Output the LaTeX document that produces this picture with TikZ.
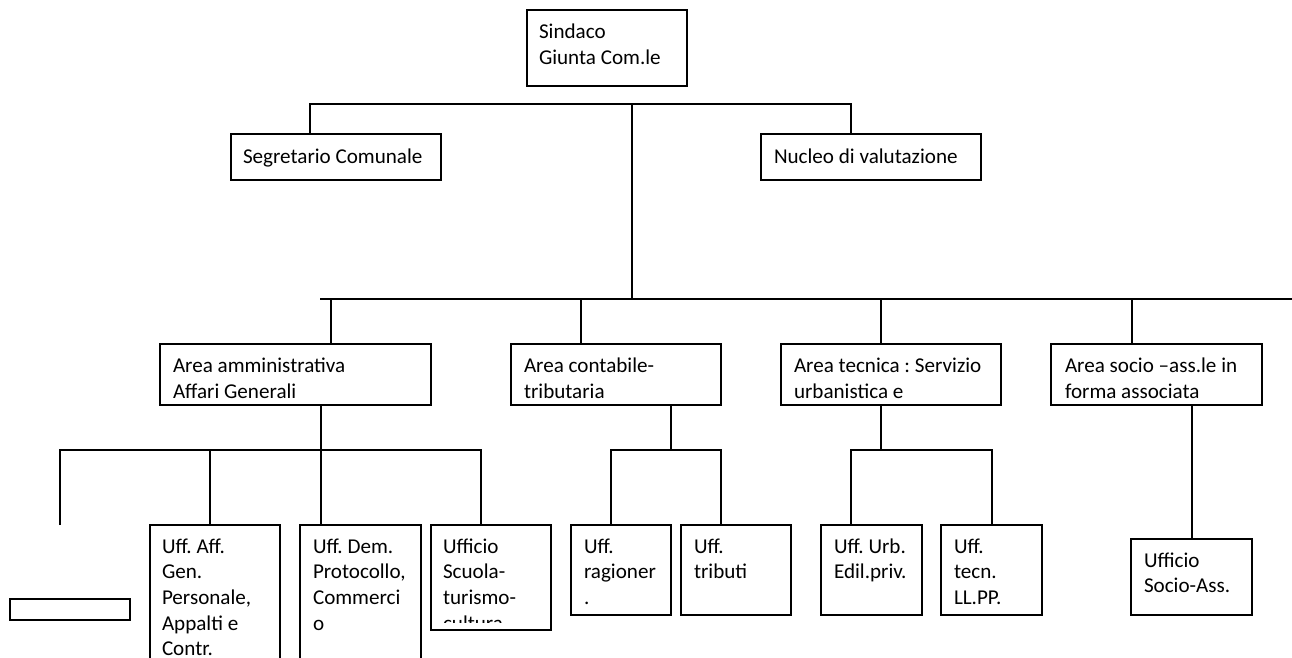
\documentclass[tikz,border=0pt]{standalone}
\usepackage{fontspec}
\setmainfont{Carlito}
\frenchspacing
\begin{document}
\begin{tikzpicture}[x=1pt,y=-1pt,
  box/.style={draw=black, line width=1.8pt, rectangle, anchor=north west, inner sep=0pt, outer sep=0pt},
  txt/.style={anchor=north west, inner sep=0pt, outer sep=0pt, align=left,
    font=\fontsize{21.1}{25.7}\selectfont\frenchspacing, execute at begin node=\strut},
  conn/.style={draw=black, line width=1.8pt}]
\useasboundingbox (0,0) rectangle (1292,657);
% boxes
\node[box, minimum width=160, minimum height=76] (sind) at (527,10) {};
\node[box, minimum width=210, minimum height=46] (segr) at (231,134) {};
\node[box, minimum width=220, minimum height=46] (nucl) at (761,134) {};
\node[box, minimum width=271, minimum height=61] (aamm) at (160,344) {};
\node[box, minimum width=210, minimum height=61] (acont) at (511,344) {};
\node[box, minimum width=220, minimum height=61] (atec) at (781,344) {};
\node[box, minimum width=211, minimum height=61] (asoc) at (1051,344) {};
\node[box, minimum width=130, minimum height=200] (uaff) at (150,525) {};
\node[box, minimum width=121, minimum height=200] (udem) at (300,525) {};
\node[box, minimum width=120, minimum height=105] (uscu) at (431,525) {};
\node[box, minimum width=100, minimum height=90] (urag) at (571,525) {};
\node[box, minimum width=110, minimum height=90] (utri) at (681,525) {};
\node[box, minimum width=101, minimum height=90] (uurb) at (821,525) {};
\node[box, minimum width=101, minimum height=90] (utec) at (941,525) {};
\node[box, minimum width=121, minimum height=76] (usoc) at (1131,539) {};
\node[box, minimum width=120, minimum height=21] (empty) at (10,599) {};
% texts
\node[txt] (t-sind) at (539,24) {Sindaco\\Giunta Com.le};
\node[txt] (t-segr) at (243,145.5) {Segretario Comunale};
\node[txt] (t-nucl) at (774,145.5) {Nucleo di valutazione};
\node[txt] (t-aamm) at (173,358) {Area amministrativa\\Affari Generali};
\node[txt] (t-acont) at (524,358) {Area contabile-\\tributaria};
\node[txt] (t-atec) at (794,358) {Area tecnica : Servizio\\urbanistica e};
\node[txt] (t-asoc) at (1065,358) {Area socio –ass.le in\\forma associata};
\node[txt] (t-uaff) at (162,538.5) {Uff. Aff.\\Gen.\\Personale,\\Appalti e\\Contr.};
\node[txt] (t-udem) at (313,538.5) {Uff. Dem.\\Protocollo,\\Commerci\\o};
\begin{scope}
\clip (431,525) rectangle (551,622);
\node[txt] (t-uscu) at (443,538.5) {Ufficio\\Scuola-\\turismo-\\cultura};
\end{scope}
\node[txt] (t-urag) at (584,538.5) {Uff.\\ragioner\\.};
\node[txt] (t-utri) at (694,538.5) {Uff.\\tributi};
\node[txt] (t-uurb) at (834,538.5) {Uff. Urb.\\Edil.priv.};
\node[txt] (t-utec) at (954,538.5) {Uff.\\tecn.\\LL.PP.};
\node[txt] (t-usoc) at (1144,552.5) {Ufficio\\Socio-Ass.};
% connector coordinates
\coordinate (b1L) at (310,104);
\coordinate (b1M) at (632,104);
\coordinate (b1R) at (851,104);
\coordinate (b2L) at (320,299);
\coordinate (b2M) at (632,299);
\coordinate (b2R) at (1300,299);
\coordinate (d1) at (331,299);
\coordinate (d2) at (581,299);
\coordinate (d3) at (881,299);
\coordinate (d4) at (1132,299);
\coordinate (e1) at (321,450);
\coordinate (e1L) at (60,450);
\coordinate (e1R) at (481,450);
\coordinate (e1a) at (210,450);
\coordinate (free) at (60,525);
\coordinate (e2) at (671,450);
\coordinate (e2L) at (611,450);
\coordinate (e2R) at (721,450);
\coordinate (e3) at (881,450);
\coordinate (e3L) at (851,450);
\coordinate (e3R) at (992,450);
\coordinate (e4) at (1192,450);
% top level
\draw[conn] (segr.north -| b1L) -- (b1L) -- (b1R) -- (nucl.north -| b1R);
\draw[conn] (b1M) -- (b2M);
\draw[conn] (b2L) -- (b2R);
\draw[conn] (d1) -- (d1 |- aamm.north);
\draw[conn] (d2) -- (d2 |- acont.north);
\draw[conn] (d3) -- (d3 |- atec.north);
\draw[conn] (d4) -- (d4 |- asoc.north);
% area amministrativa
\draw[conn] (e1 |- aamm.south) -- (e1 |- udem.north);
\draw[conn] (free) -- (e1L) -- (e1R) -- (e1R |- uscu.north);
\draw[conn] (e1a) -- (e1a |- uaff.north);
% area contabile
\draw[conn] (e2 |- acont.south) -- (e2);
\draw[conn] (e2L |- urag.north) -- (e2L) -- (e2R) -- (e2R |- utri.north);
% area tecnica
\draw[conn] (e3 |- atec.south) -- (e3);
\draw[conn] (e3L |- uurb.north) -- (e3L) -- (e3R) -- (e3R |- utec.north);
% area socio
\draw[conn] (e4 |- asoc.south) -- (e4 |- usoc.north);
\end{tikzpicture}
\end{document}
